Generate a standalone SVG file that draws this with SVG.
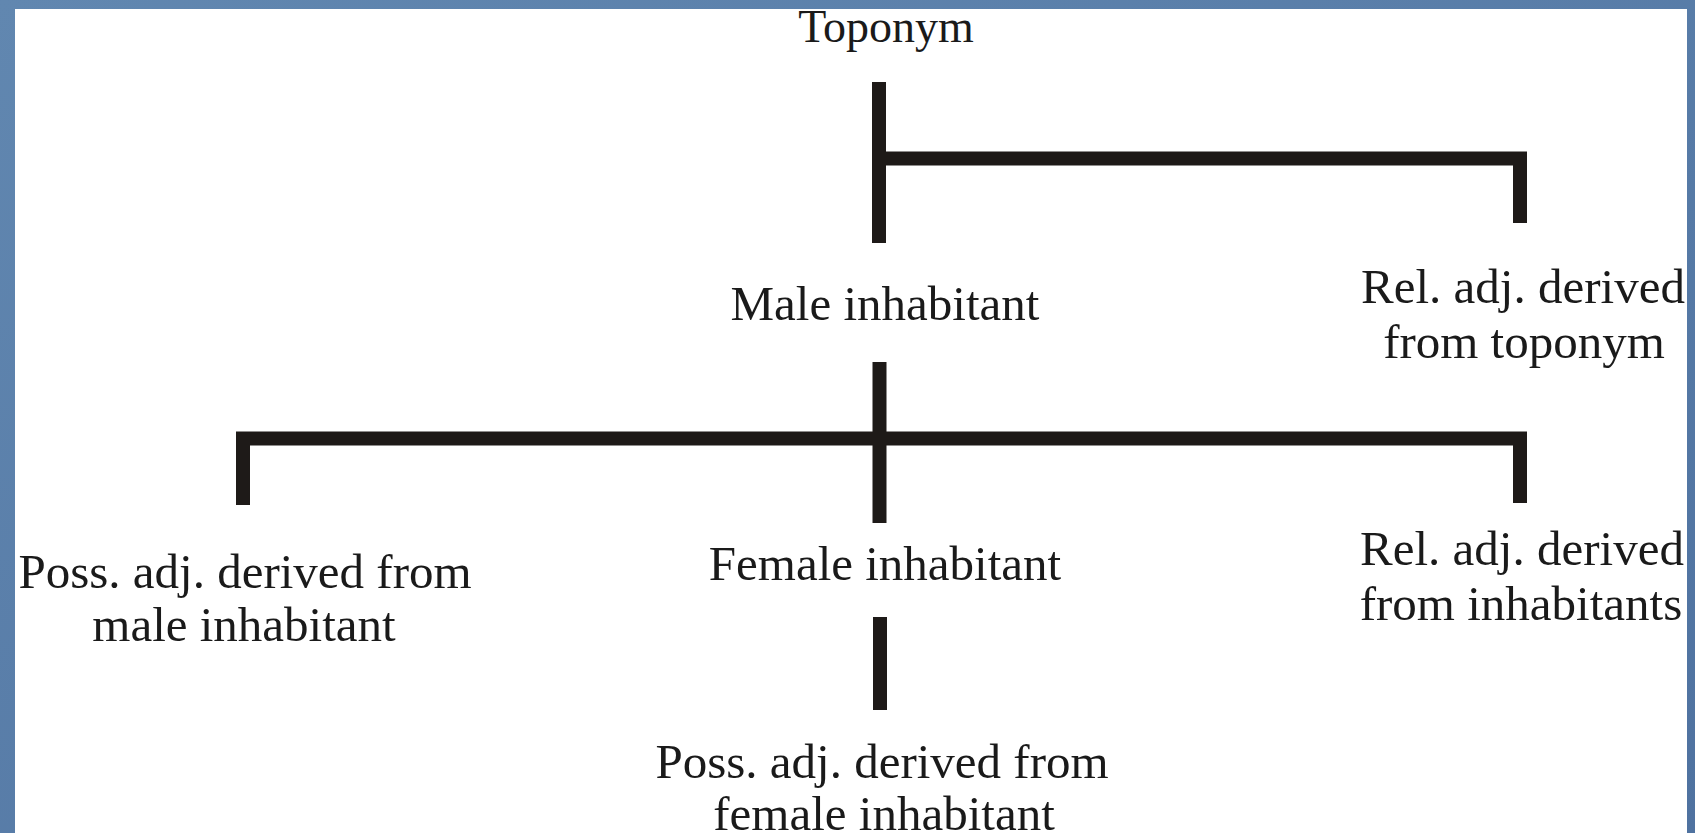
<svg xmlns="http://www.w3.org/2000/svg" width="1695" height="833" viewBox="0 0 1695 833">
<style>
.t{font-family:"Liberation Serif","Times New Roman",serif;font-size:49px;fill:#1a1a1a;text-anchor:middle}
.c{fill:none;stroke:#1e1a18;stroke-width:14;stroke-linecap:butt;stroke-linejoin:miter}
</style>
<defs>
<linearGradient id="bg" x1="0" y1="0" x2="1" y2="1">
<stop offset="0" stop-color="#6187b0"/>
<stop offset="1" stop-color="#4f72a0"/>
</linearGradient>
</defs>
<rect x="0" y="0" width="1695" height="833" fill="url(#bg)"/>
<rect x="15" y="9" width="1672" height="830" fill="#ffffff"/>
<g id="connectors">
<path class="c" d="M879,82 V243"/>
<path class="c" d="M879,158.5 H1520 V223"/>
<path class="c" d="M879.5,362 V523"/>
<path class="c" d="M243,505 V438.5 H1520 V503"/>
<path class="c" d="M880,617 V710"/>
</g>
<g id="toponym"><text class="t" x="886" y="42" style="font-size:46px">Toponym</text></g>
<g id="male-inhabitant"><text class="t" x="885" y="320">Male inhabitant</text></g>
<g id="rel-adj-toponym"><text class="t" x="1523" y="303">Rel. adj. derived</text><text class="t" x="1524" y="358">from toponym</text></g>
<g id="poss-adj-male"><text class="t" x="245" y="588">Poss. adj. derived from</text><text class="t" x="244" y="641">male inhabitant</text></g>
<g id="female-inhabitant"><text class="t" x="885" y="580">Female inhabitant</text></g>
<g id="rel-adj-inhabitants"><text class="t" x="1522" y="565">Rel. adj. derived</text><text class="t" x="1521" y="620">from inhabitants</text></g>
<g id="poss-adj-female"><text class="t" x="882" y="778">Poss. adj. derived from</text><text class="t" x="884" y="830">female inhabitant</text></g>
</svg>
